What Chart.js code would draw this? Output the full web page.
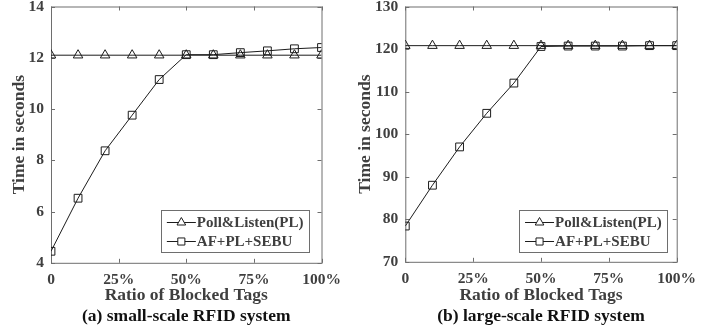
<!DOCTYPE html>
<html>
<head>
    <meta charset="utf-8" />
    <title>Time vs ratio of blocked tags</title>
    <style>
        body { margin: 0; background: #fff; }
        .wrap { position: relative; width: 721px; height: 333px; overflow: hidden; }
        canvas { position: absolute; top: 0; }
        #chartA { left: 0; }
        #chartB { left: 350px; }
    </style>
</head>
<body>
<div class="wrap">
    <canvas id="chartA" width="360" height="333"></canvas>
    <canvas id="chartB" width="371" height="333"></canvas>
</div>

<script src="https://cdn.jsdelivr.net/npm/chart.js"></script>
<script>
    // data
    const ratios = [0, 10, 20, 30, 40, 50, 60, 70, 80, 90, 100];
    const xTicks = [0, 25, 50, 75, 100];
    const seriesNames = ['Poll&Listen(PL)', 'AF+PL+SEBU'];

    const smallPoll = [12.1, 12.1, 12.1, 12.1, 12.1, 12.1, 12.1, 12.1, 12.1, 12.1, 12.1];
    const smallAfpl = [4.45, 6.52, 8.37, 9.76, 11.15, 12.12, 12.12, 12.2, 12.27, 12.35, 12.4];
    const smallYTicks = [4, 6, 8, 10, 12, 14];

    const largePoll = [120.8, 120.8, 120.8, 120.8, 120.8, 120.8, 120.8, 120.8, 120.8, 120.8, 120.8];
    const largeAfpl = [78.4, 88.0, 97.0, 104.9, 112.0, 120.6, 120.7, 120.7, 120.7, 120.8, 120.8];
    const largeYTicks = [70, 80, 90, 100, 110, 120, 130];

    const FONT = "'Liberation Serif', 'Times New Roman', serif";
    const TEXT = '#3f3f3f';
    const LINE = '#1c1c1c';
    const AXIS = '#6e6e6e';

    // box round the plot + inward ticks on all four sides + legend inside
    const framePlugin = {
        id: 'frame',
        beforeDatasetsDraw(chart) {
            const { ctx, chartArea: a, scales } = chart;
            ctx.save();
            ctx.strokeStyle = AXIS;
            ctx.lineWidth = 1;
            ctx.strokeRect(a.left + 0.5, a.top + 0.5, a.right - a.left, a.bottom - a.top);
            ctx.beginPath();
            scales.x.ticks.forEach(t => {
                const px = Math.round(scales.x.getPixelForValue(t.value)) + 0.5;
                ctx.moveTo(px, a.bottom); ctx.lineTo(px, a.bottom - 4);
                ctx.moveTo(px, a.top); ctx.lineTo(px, a.top + 4);
            });
            scales.y.ticks.forEach(t => {
                const py = Math.round(scales.y.getPixelForValue(t.value)) + 0.5;
                ctx.moveTo(a.left, py); ctx.lineTo(a.left + 4, py);
                ctx.moveTo(a.right, py); ctx.lineTo(a.right - 4, py);
            });
            ctx.stroke();
            ctx.restore();
        },
        afterDraw(chart, args, opts) {
            const { ctx, chartArea: a } = chart;
            ctx.save();
            ctx.font = 'bold 15px ' + FONT;
            const textW = Math.max(...chart.data.datasets.map(d => ctx.measureText(d.label).width));
            const w = textW + 41, h = 42;
            const x0 = a.right - opts.right - w;
            const y0 = a.bottom - opts.bottom - h;
            ctx.fillStyle = '#fff';
            ctx.fillRect(x0, y0, w, h);
            ctx.strokeStyle = AXIS;
            ctx.strokeRect(Math.round(x0) + 0.5, Math.round(y0) + 0.5, Math.round(w), Math.round(h));
            chart.data.datasets.forEach((d, i) => {
                const cy = Math.round(y0 + 12 + i * 19) + 0.5;
                ctx.strokeStyle = LINE;
                ctx.lineWidth = 1;
                ctx.beginPath();
                ctx.moveTo(x0 + 6, cy); ctx.lineTo(x0 + 35, cy);
                ctx.stroke();
                ctx.fillStyle = '#fff';
                Chart.helpers.drawPoint(ctx, { pointStyle: d.pointStyle, radius: 5, borderWidth: 1 }, x0 + 20.5, cy);
                ctx.fillStyle = TEXT;
                ctx.textBaseline = 'middle';
                ctx.fillText(d.label, x0 + 36, cy + 1);
            });
            ctx.restore();
        }
    };

    function makeChart(id, poll, afpl, yTicks, caption, box) {
        const tickFont = { family: FONT, size: 15.5, weight: 'bold' };
        const titleFont = { family: FONT, size: 17.5, weight: 'bold' };
        return new Chart(document.getElementById(id), {
            type: 'line',
            data: {
                datasets: [{
                    label: seriesNames[0],
                    data: ratios.map((r, i) => ({ x: r, y: poll[i] })),
                    pointStyle: 'triangle'
                }, {
                    label: seriesNames[1],
                    data: ratios.map((r, i) => ({ x: r, y: afpl[i] })),
                    pointStyle: 'rect'
                }]
            },
            options: {
                responsive: false,
                animation: false,
                layout: { padding: { top: 6, right: box.right, left: 0, bottom: 0 } },
                elements: {
                    line: { borderColor: LINE, borderWidth: 1, tension: 0 },
                    point: { radius: 5.5, borderColor: LINE, borderWidth: 1, backgroundColor: 'rgba(0,0,0,0)' }
                },
                scales: {
                    x: {
                        type: 'linear',
                        min: 0,
                        max: 100,
                        afterBuildTicks: s => { s.ticks = xTicks.map(v => ({ value: v })); },
                        afterFit: s => { s.height = box.xHeight; s.paddingLeft = 0; s.paddingRight = 0; },
                        grid: { display: false, drawTicks: false },
                        border: { display: false },
                        ticks: {
                            font: tickFont, color: TEXT, padding: 8, maxRotation: 0,
                            callback: v => (v === 0 ? '0' : v + '%')
                        },
                        title: {
                            display: true, text: 'Ratio of Blocked Tags', font: titleFont, color: TEXT,
                            padding: { top: 0, bottom: 0 }
                        }
                    },
                    y: {
                        min: yTicks[0],
                        max: yTicks[yTicks.length - 1],
                        afterBuildTicks: s => { s.ticks = yTicks.map(v => ({ value: v })); },
                        afterFit: s => { s.width = box.yWidth; s.paddingTop = 0; s.paddingBottom = 0; },
                        grid: { display: false, drawTicks: false },
                        border: { display: false },
                        ticks: { font: tickFont, color: TEXT, padding: 7 },
                        title: {
                            display: true, text: 'Time in seconds', font: titleFont, color: TEXT,
                            padding: { top: box.yTitle, bottom: 0 }
                        }
                    }
                },
                plugins: {
                    legend: { display: false },
                    tooltip: { enabled: false },
                    title: {
                        display: true, position: 'bottom', fullSize: false, text: caption,
                        font: titleFont, color: '#111',
                        padding: { top: 0, bottom: 6.5 }
                    },
                    frame: { right: box.legendRight, bottom: box.legendBottom }
                }
            },
            plugins: [framePlugin]
        });
    }

    makeChart('chartA', smallPoll, smallAfpl, smallYTicks, '(a) small-scale RFID system',
        { right: 38.5, yWidth: 51, xHeight: 42.7, yTitle: 9, legendRight: 13, legendBottom: 11 });
    makeChart('chartB', largePoll, largeAfpl, largeYTicks, '(b) large-scale RFID system',
        { right: 44.3, yWidth: 55.3, xHeight: 43.7, yTitle: 5, legendRight: 10, legendBottom: 10 });
</script>
</body>
</html>
